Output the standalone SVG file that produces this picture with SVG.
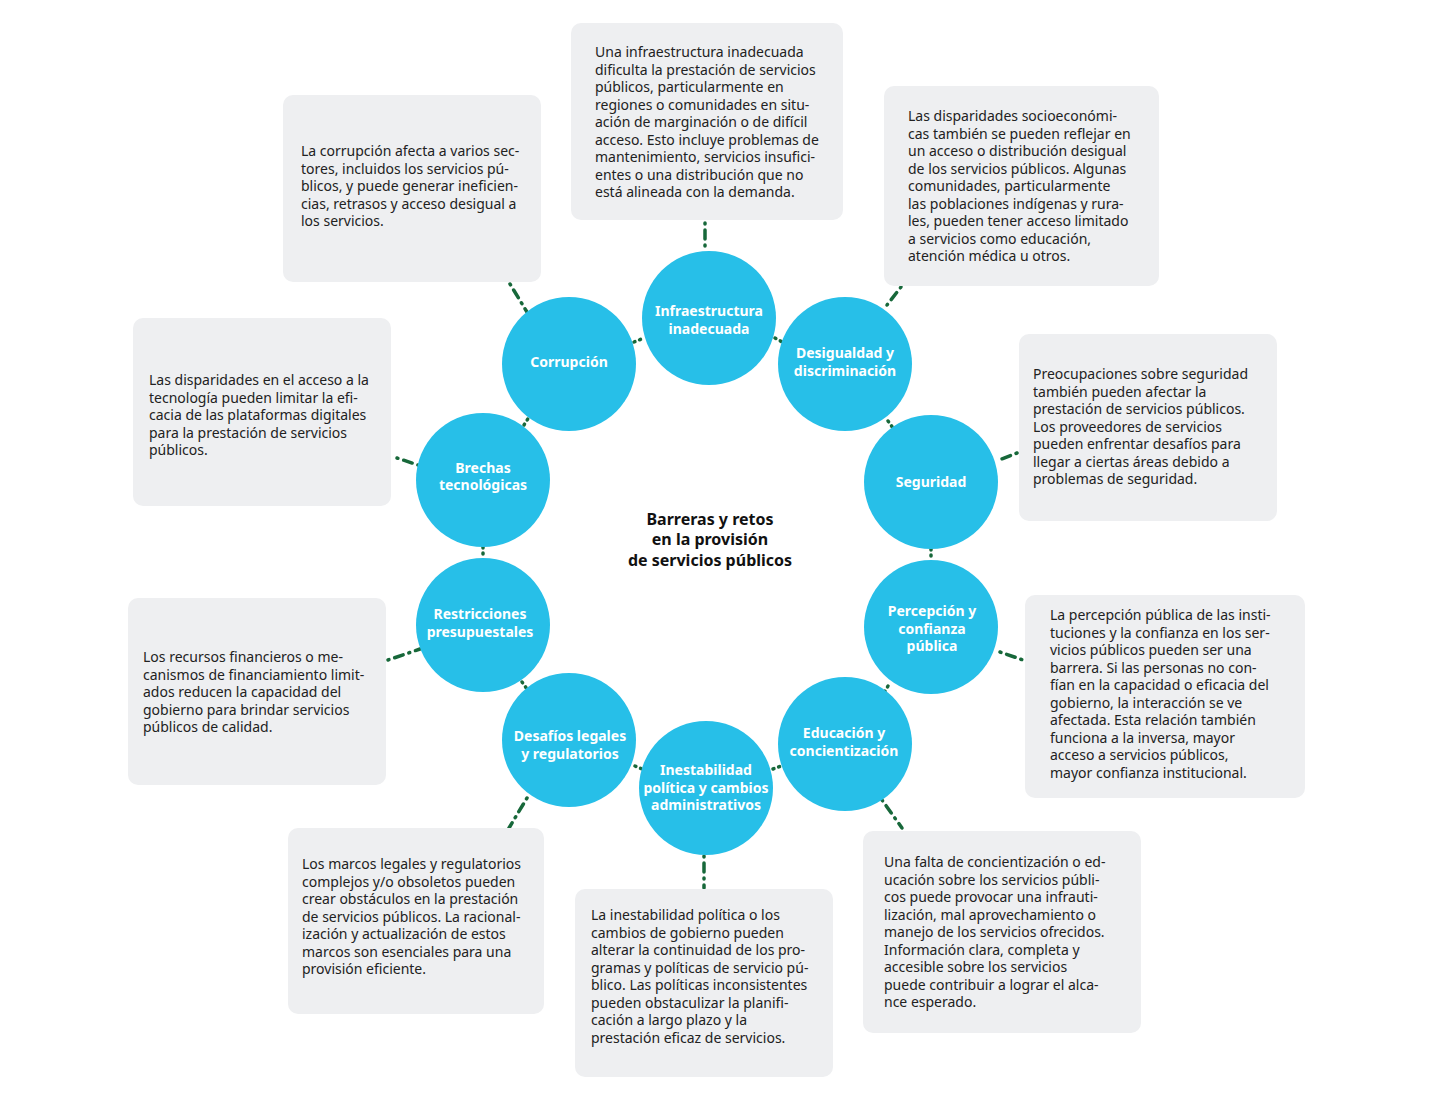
<svg xmlns="http://www.w3.org/2000/svg" width="1433" height="1100" viewBox="0 0 1433 1100">
<style>
.box{fill:#eeeff1}
.c{fill:#27bfe8}
.t{font-family:"Noto Sans",sans-serif;font-size:14px;fill:#222}
.n{font-family:"Noto Sans",sans-serif;font-size:14px;font-weight:bold;fill:#fff;text-anchor:middle}
.h{font-family:"Noto Sans",sans-serif;font-size:16px;font-weight:bold;fill:#111;text-anchor:middle}
.l{stroke:#17683a;stroke-width:3.5;stroke-linecap:round;stroke-dasharray:1 6 9 6;fill:none}
.s{stroke:#17683a;stroke-width:3.5;stroke-linecap:round;stroke-dasharray:1 5;fill:none}
</style>
<rect width="1433" height="1100" fill="#fff"/>
<g id="connectors">
<line class="l" x1="705" y1="223" x2="705" y2="250"/>
<line class="l" x1="510" y1="284" x2="527" y2="312"/>
<line class="l" x1="901" y1="287" x2="887" y2="305"/>
<line class="l" x1="397" y1="458" x2="418" y2="465"/>
<line class="l" x1="1017" y1="453" x2="999" y2="460"/>
<line class="l" x1="388" y1="660" x2="420" y2="649"/>
<line class="l" x1="1000" y1="652" x2="1023" y2="660"/>
<line class="l" x1="527" y1="798" x2="509" y2="828"/>
<line class="l" x1="882" y1="800" x2="902" y2="828"/>
<line class="l" x1="704" y1="856" x2="704" y2="888"/>
<line class="s" x1="634" y1="342" x2="644" y2="338"/>
<line class="s" x1="775" y1="338" x2="784" y2="343"/>
<line class="s" x1="888" y1="421" x2="893" y2="428"/>
<line class="s" x1="931" y1="549" x2="931" y2="557"/>
<line class="s" x1="888" y1="686" x2="884" y2="693"/>
<line class="s" x1="773" y1="769" x2="781" y2="766"/>
<line class="s" x1="635" y1="766" x2="642" y2="769"/>
<line class="s" x1="522" y1="682" x2="527" y2="689"/>
<line class="s" x1="483" y1="547" x2="483" y2="556"/>
<line class="s" x1="524" y1="425" x2="529" y2="417"/>
</g>
<g id="title"><text class="h" x="710" y="525">Barreras y retos</text><text class="h" x="710" y="545">en la provisión</text><text class="h" x="710" y="566">de servicios públicos</text></g>
<g id="n-infra"><circle class="c" cx="709" cy="318" r="67"/><text class="n" x="709" y="316">Infraestructura</text><text class="n" x="709" y="334">inadecuada</text>
<rect class="box" x="571" y="23" width="272" height="197" rx="10"/>
<text class="t" x="595" y="57">Una infraestructura inadecuada</text><text class="t" x="595" y="74.5">dificulta la prestación de servicios</text><text class="t" x="595" y="92">públicos, particularmente en</text><text class="t" x="595" y="109.5">regiones o comunidades en situ-</text><text class="t" x="595" y="127">ación de marginación o de difícil</text><text class="t" x="595" y="144.5">acceso. Esto incluye problemas de</text><text class="t" x="595" y="162">mantenimiento, servicios insufici-</text><text class="t" x="595" y="179.5">entes o una distribución que no</text><text class="t" x="595" y="197">está alineada con la demanda.</text></g>
<g id="n-corr"><circle class="c" cx="569" cy="364" r="67"/><text class="n" x="569" y="367">Corrupción</text>
<rect class="box" x="283" y="95" width="258" height="187" rx="10"/>
<text class="t" x="301" y="156">La corrupción afecta a varios sec-</text><text class="t" x="301" y="173.5">tores, incluidos los servicios pú-</text><text class="t" x="301" y="191">blicos, y puede generar ineficien-</text><text class="t" x="301" y="208.5">cias, retrasos y acceso desigual a</text><text class="t" x="301" y="226">los servicios.</text></g>
<g id="n-desig"><circle class="c" cx="845" cy="364" r="67"/><text class="n" x="845" y="358">Desigualdad y</text><text class="n" x="845" y="376">discriminación</text>
<rect class="box" x="884" y="86" width="275" height="200" rx="10"/>
<text class="t" x="908" y="121">Las disparidades socioeconómi-</text><text class="t" x="908" y="138.5">cas también se pueden reflejar en</text><text class="t" x="908" y="156">un acceso o distribución desigual</text><text class="t" x="908" y="173.5">de los servicios públicos. Algunas</text><text class="t" x="908" y="191">comunidades, particularmente</text><text class="t" x="908" y="208.5">las poblaciones indígenas y rura-</text><text class="t" x="908" y="226">les, pueden tener acceso limitado</text><text class="t" x="908" y="243.5">a servicios como educación,</text><text class="t" x="908" y="261">atención médica u otros.</text></g>
<g id="n-brech"><circle class="c" cx="483" cy="480" r="67"/><text class="n" x="483" y="473">Brechas</text><text class="n" x="483" y="490">tecnológicas</text>
<rect class="box" x="133" y="318" width="258" height="188" rx="10"/>
<text class="t" x="149" y="385">Las disparidades en el acceso a la</text><text class="t" x="149" y="402.5">tecnología pueden limitar la efi-</text><text class="t" x="149" y="420">cacia de las plataformas digitales</text><text class="t" x="149" y="437.5">para la prestación de servicios</text><text class="t" x="149" y="455">públicos.</text></g>
<g id="n-seg"><circle class="c" cx="931" cy="482" r="67"/><text class="n" x="931" y="487">Seguridad</text>
<rect class="box" x="1019" y="334" width="258" height="187" rx="10"/>
<text class="t" x="1033" y="379">Preocupaciones sobre seguridad</text><text class="t" x="1033" y="396.5">también pueden afectar la</text><text class="t" x="1033" y="414">prestación de servicios públicos.</text><text class="t" x="1033" y="431.5">Los proveedores de servicios</text><text class="t" x="1033" y="449">pueden enfrentar desafíos para</text><text class="t" x="1033" y="466.5">llegar a ciertas áreas debido a</text><text class="t" x="1033" y="484">problemas de seguridad.</text></g>
<g id="n-restr"><circle class="c" cx="483" cy="625" r="67"/><text class="n" x="480" y="619">Restricciones</text><text class="n" x="480" y="637">presupuestales</text>
<rect class="box" x="128" y="598" width="258" height="187" rx="10"/>
<text class="t" x="143" y="662">Los recursos financieros o me-</text><text class="t" x="143" y="679.5">canismos de financiamiento limit-</text><text class="t" x="143" y="697">ados reducen la capacidad del</text><text class="t" x="143" y="714.5">gobierno para brindar servicios</text><text class="t" x="143" y="732">públicos de calidad.</text></g>
<g id="n-perc"><circle class="c" cx="931" cy="627" r="67"/><text class="n" x="932" y="616">Percepción y</text><text class="n" x="932" y="633.5">confianza</text><text class="n" x="932" y="651">pública</text>
<rect class="box" x="1025" y="595" width="280" height="203" rx="10"/>
<text class="t" x="1050" y="620">La percepción pública de las insti-</text><text class="t" x="1050" y="637.5">tuciones y la confianza en los ser-</text><text class="t" x="1050" y="655">vicios públicos pueden ser una</text><text class="t" x="1050" y="672.5">barrera. Si las personas no con-</text><text class="t" x="1050" y="690">fían en la capacidad o eficacia del</text><text class="t" x="1050" y="707.5">gobierno, la interacción se ve</text><text class="t" x="1050" y="725">afectada. Esta relación también</text><text class="t" x="1050" y="742.5">funciona a la inversa, mayor</text><text class="t" x="1050" y="760">acceso a servicios públicos,</text><text class="t" x="1050" y="777.5">mayor confianza institucional.</text></g>
<g id="n-desaf"><circle class="c" cx="569" cy="740" r="67"/><text class="n" x="570" y="741">Desafíos legales</text><text class="n" x="570" y="758.5">y regulatorios</text>
<rect class="box" x="288" y="828" width="256" height="186" rx="10"/>
<text class="t" x="302" y="869">Los marcos legales y regulatorios</text><text class="t" x="302" y="886.5">complejos y/o obsoletos pueden</text><text class="t" x="302" y="904">crear obstáculos en la prestación</text><text class="t" x="302" y="921.5">de servicios públicos. La racional-</text><text class="t" x="302" y="939">ización y actualización de estos</text><text class="t" x="302" y="956.5">marcos son esenciales para una</text><text class="t" x="302" y="974">provisión eficiente.</text></g>
<g id="n-edu"><circle class="c" cx="845" cy="744" r="67"/><text class="n" x="844" y="738">Educación y</text><text class="n" x="844" y="756">concientización</text>
<rect class="box" x="863" y="831" width="278" height="202" rx="10"/>
<text class="t" x="884" y="867">Una falta de concientización o ed-</text><text class="t" x="884" y="884.5">ucación sobre los servicios públi-</text><text class="t" x="884" y="902">cos puede provocar una infrauti-</text><text class="t" x="884" y="919.5">lización, mal aprovechamiento o</text><text class="t" x="884" y="937">manejo de los servicios ofrecidos.</text><text class="t" x="884" y="954.5">Información clara, completa y</text><text class="t" x="884" y="972">accesible sobre los servicios</text><text class="t" x="884" y="989.5">puede contribuir a lograr el alca-</text><text class="t" x="884" y="1007">nce esperado.</text></g>
<g id="n-inest"><circle class="c" cx="706" cy="788" r="67"/><text class="n" x="706" y="775">Inestabilidad</text><text class="n" x="706" y="792.5">política y cambios</text><text class="n" x="706" y="810">administrativos</text>
<rect class="box" x="575" y="889" width="258" height="188" rx="10"/>
<text class="t" x="591" y="920">La inestabilidad política o los</text><text class="t" x="591" y="937.5">cambios de gobierno pueden</text><text class="t" x="591" y="955">alterar la continuidad de los pro-</text><text class="t" x="591" y="972.5">gramas y políticas de servicio pú-</text><text class="t" x="591" y="990">blico. Las políticas inconsistentes</text><text class="t" x="591" y="1007.5">pueden obstaculizar la planifi-</text><text class="t" x="591" y="1025">cación a largo plazo y la</text><text class="t" x="591" y="1042.5">prestación eficaz de servicios.</text></g>
</svg>
